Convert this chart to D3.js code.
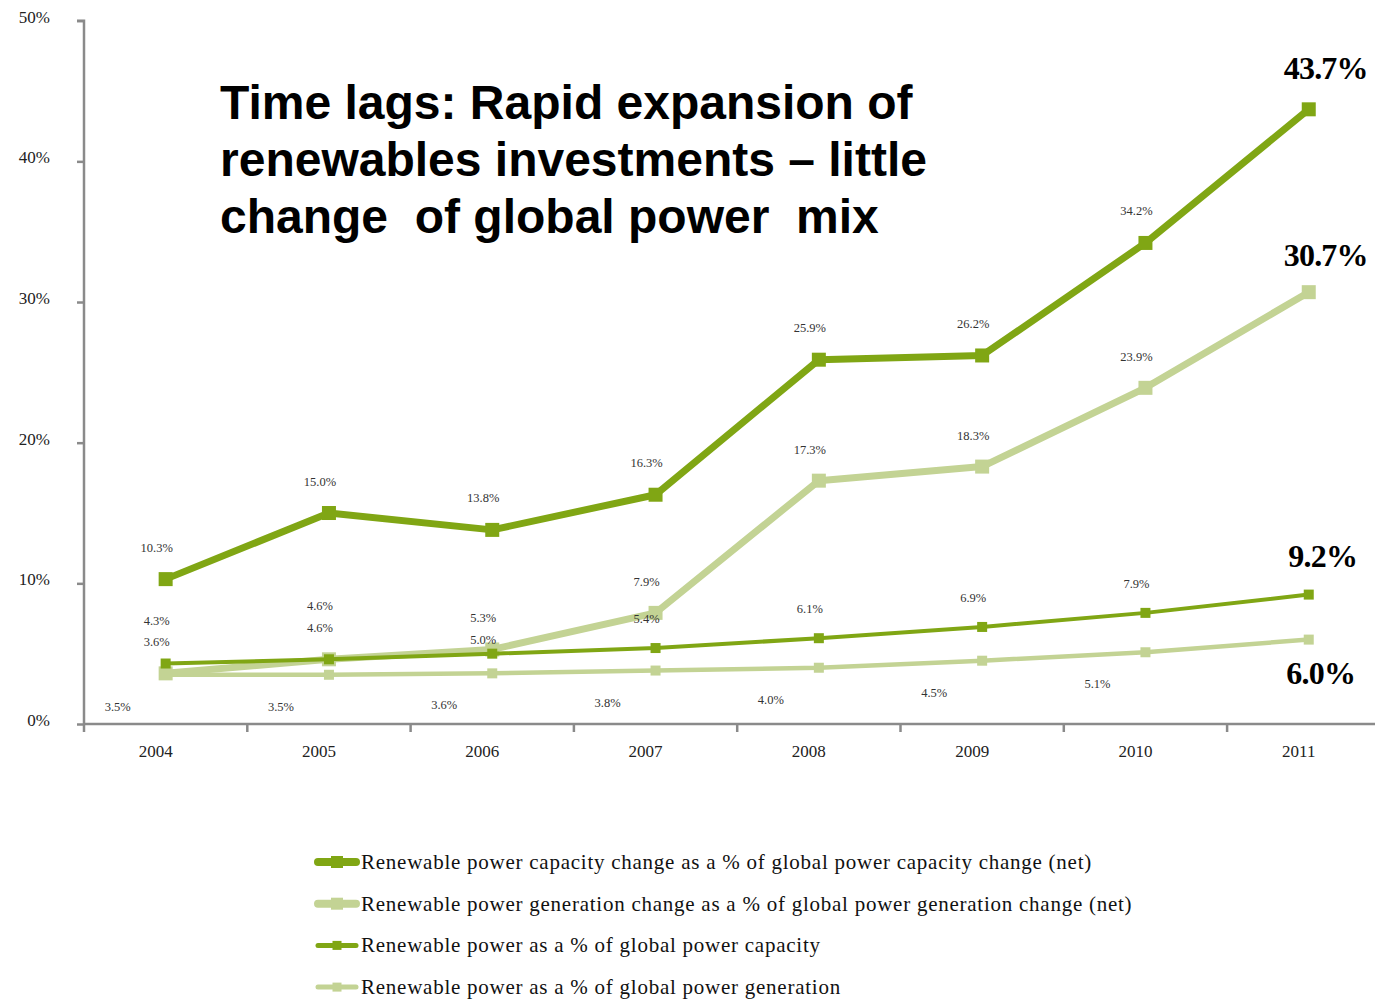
<!DOCTYPE html>
<html>
<head>
<meta charset="utf-8">
<script src="https://cdn.jsdelivr.net/npm/d3@7"></script>
<style>
  html, body { margin: 0; padding: 0; background: #fff; }
  svg { display: block; }
</style>
</head>
<body>
<svg id="chart" width="1375" height="1001"></svg>
<script>
// ---------------- data ----------------
const years = ["2004", "2005", "2006", "2007", "2008", "2009", "2010", "2011"];
const capacityChangeShare = [10.3, 15.0, 13.8, 16.3, 25.9, 26.2, 34.2, 43.7];
const generationChangeShare = [3.6, 4.6, 5.3, 7.9, 17.3, 18.3, 23.9, 30.7];
const capacityShare = [4.3, 4.6, 5.0, 5.4, 6.1, 6.9, 7.9, 9.2];
const generationShare = [3.5, 3.5, 3.6, 3.8, 4.0, 4.5, 5.1, 6.0];
const seriesNames = [
  "Renewable power capacity change as a % of global power capacity change (net)",
  "Renewable power generation change as a % of global power generation change (net)",
  "Renewable power as a % of global power capacity",
  "Renewable power as a % of global power generation"
];
const yTicks = [0, 10, 20, 30, 40, 50];
const titleLines = [
  "Time lags: Rapid expansion of",
  "renewables investments \u2013 little",
  "change  of global power  mix"
];

// ---------------- styles ----------------
const darkGreen = "#80a614";
const lightGreen = "#c3d394";
const series = [
  { name: seriesNames[0], values: capacityChangeShare, color: darkGreen, width: 7, marker: 14, labelDy: -27.5, labelDx: -9, end: { dx: 17, dy: -30 } },
  { name: seriesNames[1], values: generationChangeShare, color: lightGreen, width: 7, marker: 14, labelDy: -27, labelDx: -9, end: { dx: 17, dy: -26 } },
  { name: seriesNames[2], values: capacityShare, color: darkGreen, width: 4, marker: 10, labelDy: -25, labelDx: -9, end: { dx: 14, dy: -28 } },
  { name: seriesNames[3], values: generationShare, color: lightGreen, width: 4.5, marker: 10, labelDy: 36, labelDx: -48, end: { dx: 12, dy: 44 } }
];
// manual label nudges (series index -> point index -> extra dy)
const labelNudge = { 2: { 0: -14, 1: -24, 2: 15 } };

const serif = "'Liberation Serif', 'Times New Roman', serif";
const svg = d3.select("#chart");

// ---------------- scales ----------------
const x = d3.scaleBand().domain(years).range([84, 84 + 8 * 163.3]).padding(0);
const y = d3.scaleLinear().domain([0, 50]).range([724, 20.7]);
const cx = d => x(d) + x.bandwidth() / 2;

// ---------------- axes ----------------
const axisColor = "#8a8a8a";
const yAxis = svg.append("g")
  .attr("transform", "translate(84,0)")
  .call(d3.axisLeft(y).tickValues(yTicks).tickSize(7).tickPadding(27).tickFormat(d => d + "%"));
yAxis.select(".domain").attr("stroke", axisColor).attr("stroke-width", 2.5).attr("d", `M-7,${y(50)}H0V${y(0)}`);
yAxis.selectAll(".tick line").attr("stroke", axisColor).attr("stroke-width", 2.5);
yAxis.selectAll(".tick text")
  .attr("font-family", serif).attr("font-size", 17).attr("fill", "#222")
  .attr("transform", "translate(0,-4)");

const xAxis = svg.append("g")
  .attr("transform", "translate(0,724)")
  .call(d3.axisBottom(x).tickSize(0).tickPadding(21).tickSizeOuter(0));
xAxis.select(".domain").attr("stroke", axisColor).attr("stroke-width", 2.5).attr("d", "M84,0H1375");
xAxis.selectAll(".tick text")
  .attr("font-family", serif).attr("font-size", 17).attr("fill", "#222")
  .attr("dx", -10);
// category boundary ticks
const boundaries = years.map(d => x(d)).concat([x.range()[1]]);
xAxis.selectAll(".bound").data(boundaries).join("line")
  .attr("class", "bound")
  .attr("x1", d => d).attr("x2", d => d)
  .attr("y1", 0).attr("y2", 8)
  .attr("stroke", axisColor).attr("stroke-width", 2.5);

// ---------------- title ----------------
svg.append("g").selectAll("text").data(titleLines).join("text")
  .attr("x", 220)
  .attr("y", (d, i) => 119 + i * 57)
  .attr("font-family", "'Liberation Sans', Arial, sans-serif")
  .attr("font-weight", "bold")
  .attr("font-size", 48)
  .attr("fill", "#000")
  .style("white-space", "pre")
  .attr("xml:space", "preserve")
  .text(d => d);

// ---------------- lines ----------------
const line = d3.line().x((d, i) => cx(years[i])).y(d => y(d));
const drawOrder = [3, 1, 2, 0];
drawOrder.forEach(si => {
  const s = series[si];
  const g = svg.append("g");
  g.append("path").attr("d", line(s.values))
    .attr("fill", "none").attr("stroke", s.color).attr("stroke-width", s.width)
    .attr("stroke-linejoin", "round");
  g.selectAll("rect").data(s.values).join("rect")
    .attr("x", (d, i) => cx(years[i]) - s.marker / 2)
    .attr("y", d => y(d) - s.marker / 2)
    .attr("width", s.marker).attr("height", s.marker)
    .attr("fill", s.color);
});

// ---------------- data labels ----------------
series.forEach((s, si) => {
  const g = svg.append("g");
  s.values.forEach((v, i) => {
    if (i === s.values.length - 1) return;
    const extra = (labelNudge[si] && labelNudge[si][i]) || 0;
    g.append("text")
      .attr("x", cx(years[i]) + s.labelDx)
      .attr("y", y(v) + s.labelDy + extra)
      .attr("text-anchor", "middle")
      .attr("font-family", serif).attr("font-size", 12.5).attr("fill", "#333")
      .text(v.toFixed(1) + "%");
  });
  const last = s.values.length - 1;
  const lv = s.values[last];
  g.append("text")
    .attr("x", cx(years[last]) + s.end.dx)
    .attr("y", y(lv) + s.end.dy)
    .attr("text-anchor", "middle")
    .attr("font-family", serif).attr("font-size", 32).attr("font-weight", "bold")
    .attr("letter-spacing", -0.8).attr("fill", "#000")
    .text(lv.toFixed(1) + "%");
});

// ---------------- legend ----------------
const legend = svg.append("g");
series.forEach((s, i) => {
  const yy = 862 + i * 41.7;
  const g = legend.append("g");
  g.append("line").attr("x1", 318).attr("x2", 356).attr("y1", yy).attr("y2", yy)
    .attr("stroke", s.color).attr("stroke-width", i < 2 ? 8 : 5).attr("stroke-linecap", "round");
  const m = i < 2 ? 12 : 9;
  g.append("rect").attr("x", 337 - m / 2).attr("y", yy - m / 2).attr("width", m).attr("height", m).attr("fill", s.color);
  g.append("text").attr("x", 361).attr("y", yy + 7)
    .attr("font-family", serif).attr("font-size", 21).attr("fill", "#111")
    .attr("letter-spacing", 0.75)
    .text(s.name);
});
</script>
</body>
</html>
